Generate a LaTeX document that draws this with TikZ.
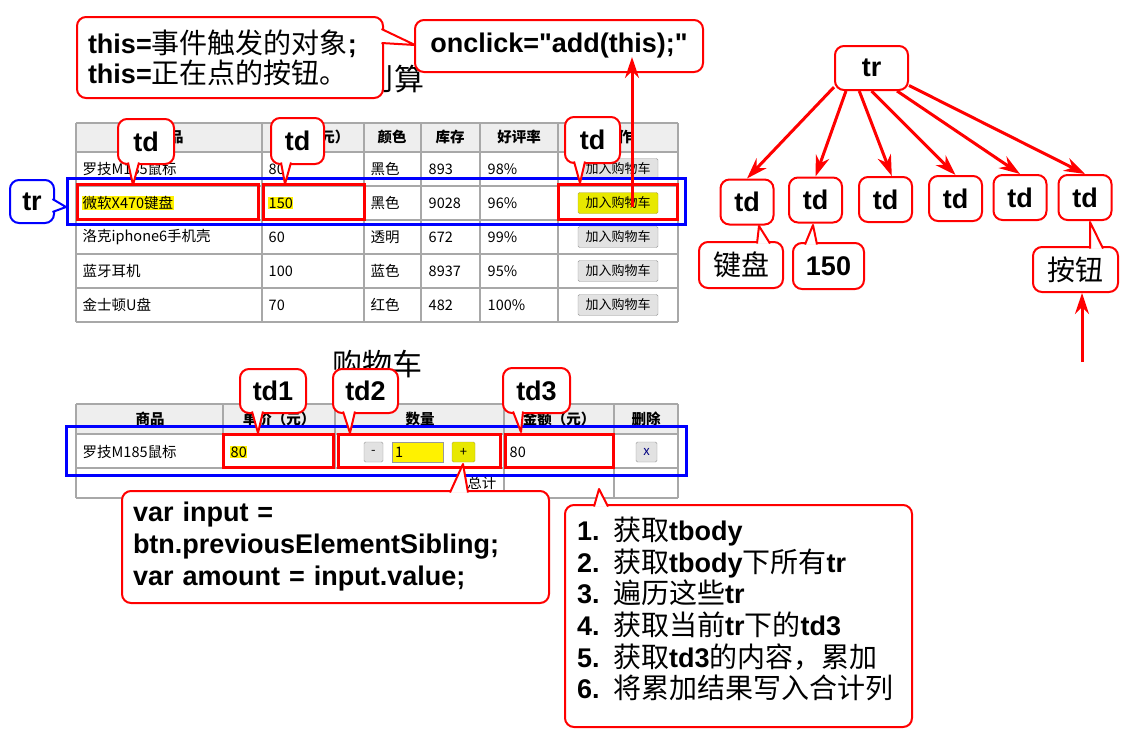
\documentclass[tikz,border=0pt]{standalone}
\usepackage{fontspec}
\setmainfont{Liberation Sans}
\newfontfamily\cjk{Noto Sans CJK SC}
\usetikzlibrary{arrows.meta}
\definecolor{cellgrey}{RGB}{168,168,168}
\definecolor{headgrey}{RGB}{238,238,238}
\definecolor{btngrey}{RGB}{226,226,226}
\definecolor{btnyellow}{RGB}{232,232,0}
\newcommand{\zhtext}[1]{{\cjk\mdseries\fontsize{28}{30}\selectfont #1}}
% pointer of a callout: base point, tip, base point
\newcommand{\ptr}[4][red]{%
  \fill[white] #2 -- #3 -- #4 -- cycle;
  \draw[#1, line width=2pt, line join=round] #2 -- #3 -- #4;}

\begin{document}
\begin{tikzpicture}[x=1pt, y=-1pt,
    cellline/.style={cellgrey, line width=1.6pt},
    thead/.style={font=\cjk\bfseries\fontsize{14.5}{16}\selectfont, inner sep=0pt},
    tcell/.style={font=\cjk\fontsize{14.5}{16}\selectfont, anchor=west, inner sep=0.5pt},
    hilite/.style={fill=yellow},
    nohl/.style={},
    shopbtn/.style={draw=gray!80, fill=btngrey, rounded corners=1.5pt, minimum width=80pt,
                    minimum height=21pt, inner sep=0pt, font=\cjk\fontsize{13}{14}\selectfont},
    shopbtnyel/.style={shopbtn, fill=btnyellow, draw=olive!70},
    redbox/.style={red, line width=3pt},
    bluebox/.style={blue, line width=3pt},
    bubble/.style={draw=red, fill=white, line width=2pt, rounded corners=9pt, inner sep=0pt,
                   font=\bfseries\fontsize{27}{30}\selectfont,
                   execute at begin node={\lineskiplimit=-40pt\relax}},
    tarr/.style={-{Stealth[length=21pt, width=14pt]}, red, line width=3pt}]

    \fill[white] (0,0) rectangle (1129,745);
    \useasboundingbox (0,0) rectangle (1129,745);

    % titles
    \node[font=\cjk\fontsize{30}{32}\selectfont, anchor=east, inner sep=0pt] (titleA) at (425,79) {刂算};
    \node[font=\cjk\fontsize{30}{32}\selectfont, inner sep=0pt] (titleB) at (377,364) {购物车};

    % product table
    \fill[headgrey] (76,123) rectangle (678,152);
    \foreach \y in {123,152,186,220,254,288,322} \draw[cellline] (76,\y) -- (678,\y);
    \foreach \x in {76,262,364,421,480,558,678} \draw[cellline] (\x,123) -- (\x,322);
    \foreach \txt/\x [count=\i] in {商品/169,单价（元）/313,颜色/392,库存/450,好评率/519,操作/618}
        \node[thead] (ha\i) at (\x,137) {\txt};
    \foreach \item/\price/\clr/\stock/\rate/\hl/\bst [count=\r] in {
        罗技M185鼠标/80/黑色/893/98\%/nohl/shopbtn,
        微软X470键盘/150/黑色/9028/96\%/hilite/shopbtnyel,
        洛克iphone6手机壳/60/透明/672/99\%/nohl/shopbtn,
        蓝牙耳机/100/蓝色/8937/95\%/nohl/shopbtn,
        金士顿U盘/70/红色/482/100\%/nohl/shopbtn} {
        \pgfmathsetmacro{\yy}{169+34*(\r-1)}
        \node[tcell,\hl] (item\r) at (82,\yy) {\item};
        \node[tcell,\hl] (price\r) at (268,\yy) {\price};
        \node[tcell] (clr\r) at (370,\yy) {\clr};
        \node[tcell] (stock\r) at (428,\yy) {\stock};
        \node[tcell] (rate\r) at (487,\yy) {\rate};
        \node[\bst] (buy\r) at (618,\yy) {加入购物车};
    }

    % cart table
    \fill[headgrey] (76,404) rectangle (678,434);
    \foreach \y in {404,434,468,498} \draw[cellline] (76,\y) -- (678,\y);
    \foreach \x in {76,223,335,504,614,678} \draw[cellline] (\x,404) -- (\x,468);
    \foreach \x in {76,504,614,678} \draw[cellline] (\x,468) -- (\x,498);
    \foreach \txt/\x [count=\i] in {商品/150,单价（元）/279,数量/420,金额（元）/559,删除/646}
        \node[thead] (hb\i) at (\x,419) {\txt};
    \node[tcell] (cartitem) at (82,452) {罗技M185鼠标};
    \node[tcell,hilite] (cartprice) at (230,452) {80};
    \node[shopbtn, minimum width=19pt, minimum height=20pt] (minus) at (373.5,452) {-};
    \node[tcell, draw=gray!80, fill=yellow, text width=45pt, align=left, minimum height=20pt,
          inner xsep=3pt] (amount) at (392,452) {1};
    \node[shopbtnyel, minimum width=23pt, minimum height=20pt] (plus) at (463.5,452) {+};
    \node[tcell] (cartsum) at (509,452) {80};
    \node[shopbtn, minimum width=21pt, minimum height=20pt, text=blue!50!black] (del) at (646.5,452) {x};
    \node[tcell, anchor=east] (total) at (497,483) {总计};

    % marked cells and rows
    \draw[bluebox] (67,178) rectangle (685,224);
    \draw[redbox] (77,184) rectangle (258,219);
    \draw[redbox] (263,184) rectangle (364,219);
    \draw[redbox] (558,184) rectangle (677,219);
    \draw[bluebox] (66,426) rectangle (686,475);
    \draw[redbox] (223,434) rectangle (333,467);
    \draw[redbox] (338,434) rectangle (500,467);
    \draw[redbox] (505,434) rectangle (613,467);

    % callouts on the product table
    \node[bubble, minimum width=56pt, minimum height=45pt] (tdA) at (146,141.5) {td};
    \ptr{(128,162.5)}{(133,185)}{(139,162.5)}
    \node[bubble, minimum width=53pt, minimum height=46pt] (tdB) at (297.5,141) {td};
    \ptr{(281,162.5)}{(285,184)}{(291,162.5)}
    \node[bubble, minimum width=55pt, minimum height=46pt] (tdC) at (592.5,140) {td};
    \ptr{(574,161.5)}{(580,183)}{(585,161.5)}
    \node[bubble, draw=blue, minimum width=44pt, minimum height=43pt] (trcall) at (32,201.5) {tr};
    \ptr[blue]{(52.5,199)}{(66,207)}{(52.5,212)}

    \node[bubble, minimum width=288pt, minimum height=52pt] (clickbox) at (559,46)
        {onclick=\textquotedbl add(this);\textquotedbl};
    \node[bubble, minimum width=306pt, minimum height=81pt, text width=284pt, align=left] (thisbox)
        at (230,57.5) {this=\zhtext{事件触发的对象};\\this=\zhtext{正在点的按钮。}};
    \ptr{(381.5,29)}{(415,45)}{(381.5,43)}

    \coordinate (clickfoot) at (632,207);
    \coordinate (clicktip) at (632,57);
    \draw[tarr] (clickfoot) -- (clicktip);

    % callouts on the cart table
    \node[bubble, minimum width=66pt, minimum height=44pt] (tdone) at (273,391) {td1};
    \ptr{(252,411.5)}{(258,433)}{(263,411.5)}
    \node[bubble, minimum width=65pt, minimum height=44pt] (tdtwo) at (365.5,391) {td2};
    \ptr{(343,411.5)}{(350,433)}{(355,411.5)}
    \node[bubble, minimum width=67pt, minimum height=45pt] (tdthree) at (536.5,390.5) {td3};
    \ptr{(513,411.5)}{(521,432)}{(523,411.5)}

    \node[bubble, minimum width=427pt, minimum height=112pt, text width=405pt, align=left,
          font=\bfseries\fontsize{27}{32}\selectfont] (codebox) at (335.5,547)
        {var input =\\btn.previousElementSibling;\\var amount = input.value;};
    \ptr{(450,492.5)}{(463,464)}{(468,492.5)}

    \node[bubble, minimum width=347pt, minimum height=222pt, text width=323pt, align=left,
          text depth=174pt, font=\bfseries\fontsize{27}{31.6}\selectfont] (stepbox) at (738.5,616)
        {1. \zhtext{获取}tbody\\
         2. \zhtext{获取}tbody\zhtext{下所有}tr\\
         3. \zhtext{遍历这些}tr\\
         4. \zhtext{获取当前}tr\zhtext{下的}td3\\
         5. \zhtext{获取}td3\zhtext{的内容，累加}\\
         6. \zhtext{将累加结果写入合计列}};
    \ptr{(594,506.5)}{(599,489)}{(608,506.5)}

    % row as a tree
    \node[bubble, minimum width=73pt, minimum height=44pt] (treetr) at (871.5,68) {tr};
    \foreach \x/\y [count=\i] in {747/202, 815.5/200, 885.5/199.5, 955.5/198.5, 1020/197.5, 1085/197.5}
        \node[bubble, minimum width=53pt, minimum height=45pt] (treetd\i) at (\x,\y) {td};

    \draw[tarr] (treetr.207) -- (treetd1.north);
    \draw[tarr] (treetr.222) -- (treetd2.north);
    \draw[tarr] (treetr.242) -- (treetd3.75);
    \draw[tarr] (treetr.270) -- (treetd4.north);
    \draw[tarr] (treetr.318) -- (treetd5.north);
    \draw[tarr] (treetr.335) -- (treetd6.north);

    \node[bubble, minimum width=84pt, minimum height=46pt, font=\mdseries] (lblkb) at (741,265) {\zhtext{键盘}};
    \ptr{(757,243.5)}{(759,226)}{(770,243.5)}
    \node[bubble, minimum width=71pt, minimum height=46pt] (lbl150) at (828.5,266) {150};
    \ptr{(805,244.5)}{(813,225)}{(817,244.5)}
    \node[bubble, minimum width=85pt, minimum height=45pt, font=\mdseries] (lblbtn) at (1075.5,269.5) {\zhtext{按钮}};
    \ptr{(1090,248.5)}{(1090,222)}{(1103,248.5)}

    \coordinate (btnfoot) at (1082,362);
    \draw[tarr] (btnfoot) -- (btnfoot |- lblbtn.south);
\end{tikzpicture}
\end{document}
